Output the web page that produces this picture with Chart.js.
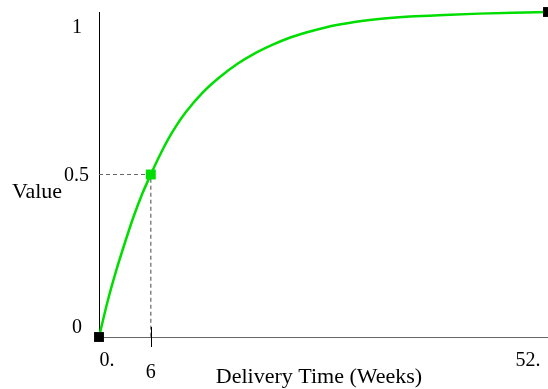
<!DOCTYPE html>
<html>
<head>
<meta charset="utf-8">
<script src="https://cdn.jsdelivr.net/npm/chart.js@4"></script>
<style>
html,body{margin:0;padding:0;background:#fff;}
#wrap{width:548px;height:389px;position:relative;}
</style>
</head>
<body>
<div id="wrap"><canvas id="c" width="548" height="389"></canvas></div>
<script>
const weeks = [0,1,2,3,4,5,6,7,8,9,10,12,14,16,18,20,22,24,26,28,30,33,36,40,44,48,52];
const values = [0,0.11,0.205,0.29,0.37,0.44,0.50,0.557,0.608,0.652,0.69,0.752,0.80,0.84,0.872,0.898,0.92,0.937,0.951,0.962,0.971,0.980,0.986,0.991,0.995,0.998,1.0];
const endWeeks = [0, 52];
const endValues = [0, 1];
const markWeek = 6;
const markValue = 0.5;
const yTickValues = [0, 0.5, 1];
const yTickLabels = ["0", "0.5", "1"];
const xTickValues = [0, 6, 52];
const xTickLabels = ["0.", "6", "52."];
const xTitle = "Delivery Time (Weeks)";
const yTitle = "Value";

const curve = weeks.map((w, i) => ({x: w, y: values[i]}));
const ends = endWeeks.map((w, i) => ({x: w, y: endValues[i]}));

const labelPlugin = {
  id: 'labels',
  afterDraw(chart) {
    const ctx = chart.ctx;
    const xs = chart.scales.x, ys = chart.scales.y;
    ctx.save();
    ctx.fillStyle = '#000';
    ctx.font = '20px "Liberation Serif", "Times New Roman", serif';
    const yOff = {0: -4, 0.5: 6, 1: 21};
    ctx.textAlign = 'right';
    ctx.textBaseline = 'alphabetic';
    yTickValues.forEach((v, i) => {
      const py = ys.getPixelForValue(v) + (yOff[v] || 0);
      const pxr = (v === 0.5) ? 89 : 82;
      ctx.fillText(yTickLabels[i], pxr, py);
    });
    const xOff = {0: [8, 366], 6: [0, 378], 52: [-20, 366]};
    ctx.textAlign = 'center';
    xTickValues.forEach((v, i) => {
      const px = xs.getPixelForValue(v) + xOff[v][0];
      ctx.fillText(xTickLabels[i], px, xOff[v][1]);
    });
    const tx = Math.round(xs.getPixelForValue(markWeek)) + 0.5;
    ctx.strokeStyle = '#000';
    ctx.lineWidth = 1;
    ctx.beginPath();
    ctx.moveTo(tx, ys.bottom - 10);
    ctx.lineTo(tx, ys.bottom + 10);
    ctx.stroke();
    ctx.font = '22px "Liberation Serif", "Times New Roman", serif';
    ctx.textAlign = 'center';
    ctx.fillText(xTitle, 319, 383);
    ctx.textAlign = 'left';
    ctx.fillText(yTitle, 12, 198);
    ctx.restore();
  }
};

new Chart(document.getElementById('c'), {
  type: 'scatter',
  data: {
    datasets: [
      {
        data: [{x: 0, y: markValue}, {x: markWeek, y: markValue}, {x: markWeek, y: 0}],
        showLine: true,
        borderColor: '#666',
        borderWidth: 1.2,
        borderDash: [4, 3],
        pointRadius: 0,
        fill: false,
        order: 3
      },
      {
        data: curve,
        showLine: true,
        borderColor: '#00dd00',
        borderWidth: 2.5,
        cubicInterpolationMode: 'monotone',
        pointRadius: 0,
        fill: false,
        clip: false,
        order: 2
      },
      {
        data: ends,
        showLine: false,
        pointStyle: 'rect',
        pointRadius: 7,
        backgroundColor: '#000',
        borderColor: '#000',
        borderWidth: 0,
        clip: false,
        order: 1
      },
      {
        data: [{x: markWeek, y: markValue}],
        showLine: false,
        pointStyle: 'rect',
        pointRadius: 7,
        backgroundColor: '#00dd00',
        borderColor: '#00dd00',
        borderWidth: 0,
        clip: false,
        order: 0
      }
    ]
  },
  options: {
    responsive: false,
    animation: false,
    events: [],
    layout: {autoPadding: false, padding: {left: 99, right: 0, top: 12, bottom: 52}},
    plugins: {legend: {display: false}, tooltip: {enabled: false}},
    scales: {
      x: {
        type: 'linear', min: 0, max: 52,
        grid: {display: false, drawTicks: false},
        border: {display: true, color: '#666', width: 1},
        ticks: {display: false}
      },
      y: {
        type: 'linear', min: 0, max: 1,
        grid: {display: false, drawTicks: false},
        border: {display: true, color: '#000', width: 1},
        ticks: {display: false}
      }
    }
  },
  plugins: [labelPlugin]
});
</script>
</body>
</html>
